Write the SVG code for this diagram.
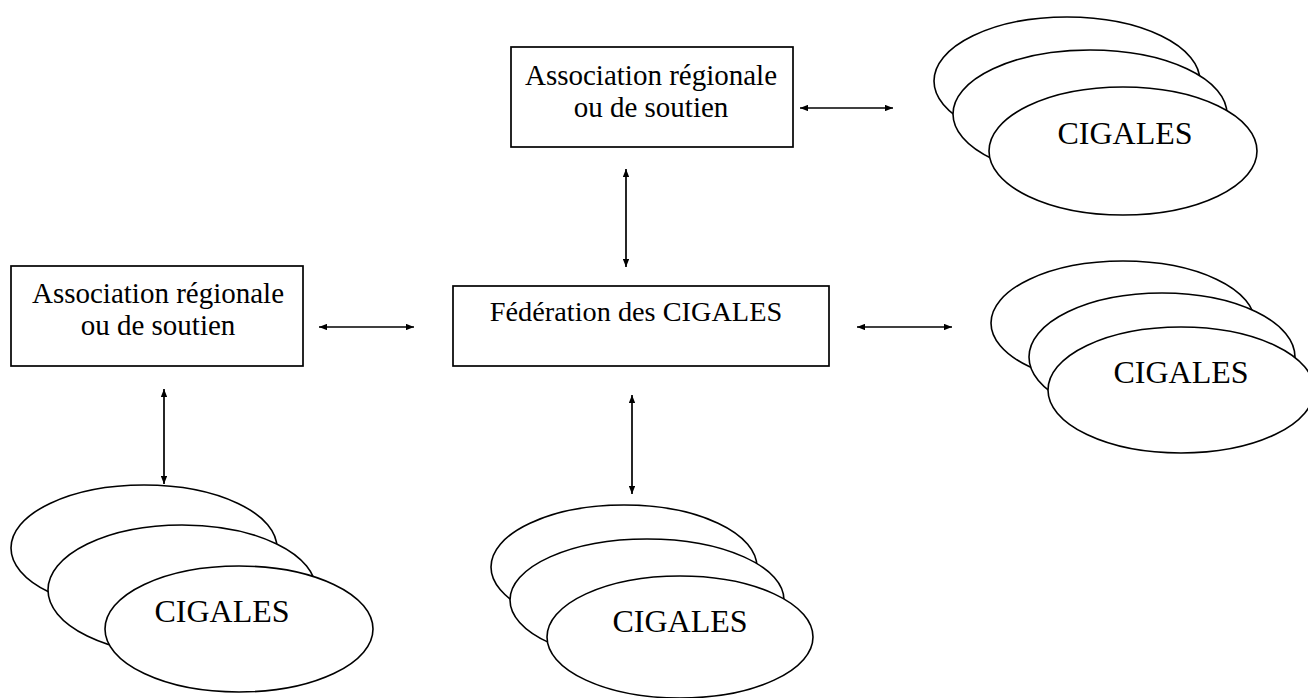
<svg xmlns="http://www.w3.org/2000/svg" width="1308" height="698" viewBox="0 0 1308 698">
<style>
.box{fill:#fff;stroke:#000;stroke-width:1.7}
.ell{fill:#fff;stroke:#000;stroke-width:1.6}
.lbl{font-family:"Liberation Serif","Times New Roman",serif;font-size:29px;fill:#000;text-anchor:middle}
.fed{font-family:"Liberation Serif","Times New Roman",serif;font-size:28.3px;fill:#000;text-anchor:middle}
.cig{font-family:"Liberation Serif","Times New Roman",serif;font-size:32px;fill:#000;text-anchor:middle}
.arr{stroke:#000;stroke-width:1.7;fill:none;marker-start:url(#ah);marker-end:url(#ah)}
</style>
<defs>
<marker id="ah" viewBox="0 0 10 8" refX="10" refY="4" markerWidth="8" markerHeight="6.4" markerUnits="userSpaceOnUse" orient="auto-start-reverse">
<path d="M0,0 L10,4 L0,8 Z" fill="#000"/>
</marker>
</defs>
<rect width="1308" height="698" fill="#fff"/>
<g id="connectors">
<line class="arr" x1="800" y1="108" x2="893" y2="108"/>
<line class="arr" x1="626" y1="169" x2="626" y2="267"/>
<line class="arr" x1="319" y1="327" x2="414" y2="327"/>
<line class="arr" x1="857" y1="327" x2="952" y2="327"/>
<line class="arr" x1="164" y1="389" x2="164" y2="484"/>
<line class="arr" x1="632" y1="395" x2="632" y2="494"/>
</g>
<g id="assoc-top">
<rect class="box" x="511" y="47" width="282" height="100"/>
<text class="lbl" x="651" y="85">Association régionale</text>
<text class="lbl" x="651" y="117">ou de soutien</text>
</g>
<g id="assoc-left">
<rect class="box" x="11" y="266" width="292" height="100"/>
<text class="lbl" x="158" y="303">Association régionale</text>
<text class="lbl" x="158" y="335">ou de soutien</text>
</g>
<g id="federation">
<rect class="box" x="453" y="286" width="376" height="80"/>
<text class="fed" x="636" y="321">Fédération des CIGALES</text>
</g>
<g id="cigales-top-right">
<ellipse class="ell" cx="1067" cy="81" rx="133" ry="64"/>
<ellipse class="ell" cx="1090" cy="114" rx="137" ry="64"/>
<ellipse class="ell" cx="1123" cy="151" rx="134" ry="64"/>
<text class="cig" x="1125" y="144">CIGALES</text>
</g>
<g id="cigales-mid-right">
<ellipse class="ell" cx="1123" cy="323" rx="132" ry="62"/>
<ellipse class="ell" cx="1162" cy="357" rx="133" ry="64"/>
<ellipse class="ell" cx="1181" cy="390" rx="133" ry="63"/>
<text class="cig" x="1181" y="383">CIGALES</text>
</g>
<g id="cigales-bottom-left">
<ellipse class="ell" cx="144" cy="548" rx="133" ry="63"/>
<ellipse class="ell" cx="182" cy="590" rx="134" ry="65"/>
<ellipse class="ell" cx="239" cy="629" rx="134" ry="63"/>
<text class="cig" x="222" y="622">CIGALES</text>
</g>
<g id="cigales-bottom-center">
<ellipse class="ell" cx="624" cy="567" rx="133" ry="62"/>
<ellipse class="ell" cx="647" cy="600" rx="137" ry="61"/>
<ellipse class="ell" cx="680" cy="637" rx="133" ry="61"/>
<text class="cig" x="680" y="632">CIGALES</text>
</g>
</svg>
